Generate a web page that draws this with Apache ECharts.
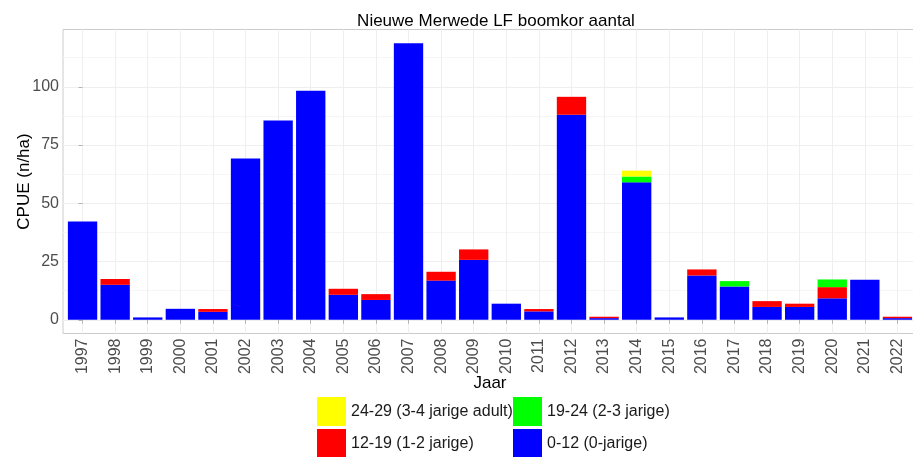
<!DOCTYPE html>
<html>
<head>
<meta charset="utf-8">
<script src="https://cdn.jsdelivr.net/npm/echarts@6/dist/echarts.min.js"></script>
<style>html,body{margin:0;padding:0;background:#fff}#c{width:913px;height:457px}</style>
</head>
<body>
<div id="c"></div>
<script>
const categories = ['1997','1998','1999','2000','2001','2002','2003','2004','2005','2006','2007','2008','2009','2010','2011','2012','2013','2014','2015','2016','2017','2018','2019','2020','2021','2022'];
const s0_12  = [42.2, 15.0, 1.0, 4.7, 3.4, 69.2, 85.5, 98.3, 10.7, 8.5, 118.7, 16.8, 25.7, 6.9, 3.6, 88.0, 0.7, 59.0, 1.0, 19.0, 14.3, 5.5, 5.5, 9.2, 17.2, 0.7];
const s12_19 = [0, 2.5, 0, 0, 1.2, 0, 0, 0, 2.6, 2.5, 0, 3.8, 4.5, 0, 1.0, 7.7, 0.6, 0, 0, 2.6, 0, 2.5, 1.4, 4.8, 0, 0.6];
const s19_24 = [0, 0, 0, 0, 0, 0, 0, 0, 0, 0, 0, 0, 0, 0, 0, 0, 0, 2.5, 0, 0, 2.3, 0, 0, 3.3, 0, 0];
const s24_29 = [0, 0, 0, 0, 0, 0, 0, 0, 0, 0, 0, 0, 0, 0, 0, 0, 0, 2.5, 0, 0, 0, 0, 0, 0, 0, 0];
const yTicks = [0, 25, 50, 75, 100];
const yMinor = [12.5, 37.5, 62.5, 87.5, 112.5];
const names = ['0-12 (0-jarige)', '12-19 (1-2 jarige)', '19-24 (2-3 jarige)', '24-29 (3-4 jarige adult)'];
const colors = ['#0000FF', '#FF0000', '#00FF00', '#FFFF00'];

const font = 'Liberation Sans, Arial, sans-serif';
const idx = categories.map((c, i) => i);
const seriesVals = [s0_12, s12_19, s19_24, s24_29];

// panel geometry (ggplot-like discrete expansion of 0.6 band on each side)
const P = {left: 63, right: -4, top: 29.5, bottom: 123.5};
const panelW = 913 - P.left - P.right;
const unit = panelW / (categories.length + 0.2);
const yMin = -5.9, yMax = 124.6;

const chart = echarts.init(document.getElementById('c'), null, {renderer: 'canvas'});

function legendAt(name, left, top) {
  return {
    data: [name], left: left, top: top, orient: 'horizontal',
    itemWidth: 29, itemHeight: 29, icon: 'rect', selectedMode: false,
    padding: 0, itemStyle: {borderWidth: 0},
    textStyle: {fontFamily: font, fontSize: 16, color: '#1a1a1a'}
  };
}

chart.setOption({
  animation: false,
  backgroundColor: '#ffffff',
  title: {
    text: 'Nieuwe Merwede LF boomkor aantal',
    left: 491, top: 8, textAlign: 'center',
    textStyle: {fontFamily: font, fontSize: 17, fontWeight: 'normal', color: '#000'}
  },
  legend: [
    legendAt(names[3], 317, 397),
    legendAt(names[2], 513, 397),
    legendAt(names[1], 317, 429),
    legendAt(names[0], 513, 429)
  ],
  grid: [{
    left: P.left, right: P.right, top: P.top, bottom: P.bottom,
    outerBoundsMode: 'none', containLabel: false,
    show: true, borderColor: '#cccccc', borderWidth: 1, backgroundColor: 'transparent'
  }, {
    left: P.left + 0.1 * unit, right: P.right + 0.1 * unit, top: P.top, bottom: P.bottom,
    outerBoundsMode: 'none', containLabel: false,
    show: false
  }],
  xAxis: [{
    gridIndex: 0,
    type: 'value', min: -0.6, max: categories.length - 0.4,
    name: 'Jaar', nameLocation: 'middle', nameGap: 41, nameMoveOverlap: false,
    nameTextStyle: {fontFamily: font, fontSize: 17, color: '#000'},
    axisLine: {show: false},
    axisTick: {show: true, customValues: idx, length: 4, lineStyle: {color: '#b3b3b3'}},
    axisLabel: {
      customValues: idx, rotate: 90, margin: 5,
      fontFamily: font, fontSize: 16, color: '#4d4d4d',
      formatter: v => categories[Math.round(v)]
    },
    splitLine: {show: true, customValues: idx, lineStyle: {color: '#efefef', width: 1}}
  }, {
    gridIndex: 1, type: 'category', data: categories, show: false
  }],
  yAxis: [{
    gridIndex: 0,
    type: 'value', min: yMin, max: yMax,
    name: 'CPUE (n/ha)', nameLocation: 'middle', nameGap: 30, nameMoveOverlap: false,
    nameTextStyle: {fontFamily: font, fontSize: 17, color: '#000'},
    axisLine: {show: false},
    axisTick: {show: true, customValues: yTicks, length: 4, lineStyle: {color: '#b3b3b3'}},
    axisLabel: {customValues: yTicks, margin: 4, fontFamily: font, fontSize: 16, color: '#4d4d4d'},
    splitLine: {show: true, customValues: yTicks, lineStyle: {color: '#efefef', width: 1}}
  }, {
    gridIndex: 0,
    type: 'value', min: yMin, max: yMax, position: 'left',
    axisLine: {show: false},
    axisTick: {show: false, customValues: yMinor},
    axisLabel: {show: false, customValues: yMinor},
    splitLine: {show: true, customValues: yMinor, lineStyle: {color: '#f6f6f6', width: 1}}
  }, {
    gridIndex: 1, type: 'value', min: yMin, max: yMax, show: false
  }],
  series: seriesVals.map((vals, k) => ({
    name: names[k],
    type: 'bar',
    stack: 'total',
    barWidth: '90%',
    xAxisIndex: 1, yAxisIndex: 2,
    itemStyle: {color: colors[k]},
    data: vals
  }))
});
</script>
</body>
</html>
